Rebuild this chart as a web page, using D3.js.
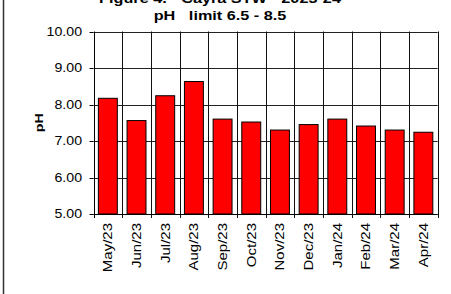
<!DOCTYPE html>
<html>
<head>
<meta charset="utf-8">
<script src="https://cdn.jsdelivr.net/npm/d3@7"></script>
<style>
html,body{margin:0;padding:0;background:#fff;}
svg{display:block;}
text{font-family:Arial,"Liberation Sans",sans-serif;fill:#000;}
</style>
</head>
<body>
<svg id="chart" width="451" height="294"></svg>
<script>
const months = ["May/23","Jun/23","Jul/23","Aug/23","Sep/23","Oct/23","Nov/23","Dec/23","Jan/24","Feb/24","Mar/24","Apr/24"];
const phValues = [8.17,7.56,8.24,8.63,7.60,7.52,7.30,7.45,7.60,7.41,7.30,7.24];
const yTicks = [5,6,7,8,9,10];
const titleLines = ["Figure 4. - Cayra STW - 2023-24","pH   limit 6.5 - 8.5"];
const yTitle = "pH";

(function(){
const svg = d3.select("#chart");
const pLeft = 93.5, pRight = 437.7, pTop = 31.5, pBottom = 214;

const x = d3.scaleBand().domain(months).range([pLeft, pRight]).paddingInner(0.34).paddingOuter(0.17);
const y = d3.scaleLinear().domain([5, 10]).range([pBottom, pTop]);

svg.append("rect").attr("width",451).attr("height",294).attr("fill","#fff");
svg.append("line").attr("x1",3.5).attr("x2",3.5).attr("y1",0).attr("y2",294)
  .attr("stroke","#333").attr("stroke-width",1.5);

svg.append("g").selectAll("line").data(yTicks).join("line")
  .attr("x1", pLeft).attr("x2", pRight)
  .attr("y1", d => Math.round(y(d)) + 0.5).attr("y2", d => Math.round(y(d)) + 0.5)
  .attr("stroke", "#222").attr("stroke-width", 1);

const bounds = months.map((m, i) => pLeft + (i + 1) * (pRight - pLeft) / months.length);
svg.append("g").selectAll("line").data(bounds).join("line")
  .attr("x1", d => Math.round(d) + 0.5).attr("x2", d => Math.round(d) + 0.5)
  .attr("y1", pTop).attr("y2", pBottom + 4)
  .attr("stroke", "#111").attr("stroke-width", 1);

svg.append("line").attr("x1", Math.round(pLeft)+0.5).attr("x2", Math.round(pLeft)+0.5)
  .attr("y1", pTop).attr("y2", pBottom + 4).attr("stroke","#000");
svg.append("line").attr("x1", pLeft).attr("x2", pRight)
  .attr("y1", Math.round(pBottom)+0.5).attr("y2", Math.round(pBottom)+0.5).attr("stroke","#000");
svg.append("g").selectAll("line").data(yTicks).join("line")
  .attr("x1", pLeft - 4).attr("x2", pLeft)
  .attr("y1", d => Math.round(y(d)) + 0.5).attr("y2", d => Math.round(y(d)) + 0.5)
  .attr("stroke", "#000");

svg.append("g").selectAll("rect").data(phValues).join("rect")
  .attr("x", (d, i) => x(months[i]))
  .attr("y", d => y(d))
  .attr("width", x.bandwidth())
  .attr("height", d => y(5) - y(d))
  .attr("fill", "#ff0000").attr("stroke", "#000").attr("stroke-width", 1);

svg.append("g").selectAll("text").data(yTicks).join("text")
  .attr("transform", d => `translate(82,${y(d)}) scale(1.18,1)`)
  .attr("dy", "0.36em").attr("text-anchor", "end")
  .attr("font-size", 12).text(d => d.toFixed(2));

svg.append("g").selectAll("text").data(months).join("text")
  .attr("transform", d => `translate(${x(d) + x.bandwidth()/2},223) rotate(-90) scale(1.25,1)`)
  .attr("dy", "0.36em").attr("text-anchor", "end")
  .attr("font-size", 12).text(d => d);

svg.append("text")
  .attr("transform", `translate(43,${(pTop+pBottom)/2}) rotate(-90) scale(1.3,1)`)
  .attr("text-anchor", "middle").attr("font-weight", "bold")
  .attr("font-size", 11).text(yTitle);

svg.append("g").selectAll("text").data(titleLines).join("text")
  .attr("transform", (d, i) => `translate(220,${i === 0 ? 3 : 19.5}) scale(1.3,1)`)
  .attr("text-anchor", "middle").attr("font-weight", "bold")
  .style("white-space", "pre").attr("xml:space", "preserve")
  .attr("font-size", 12.5).text(d => d);
})();
</script>
</body>
</html>
